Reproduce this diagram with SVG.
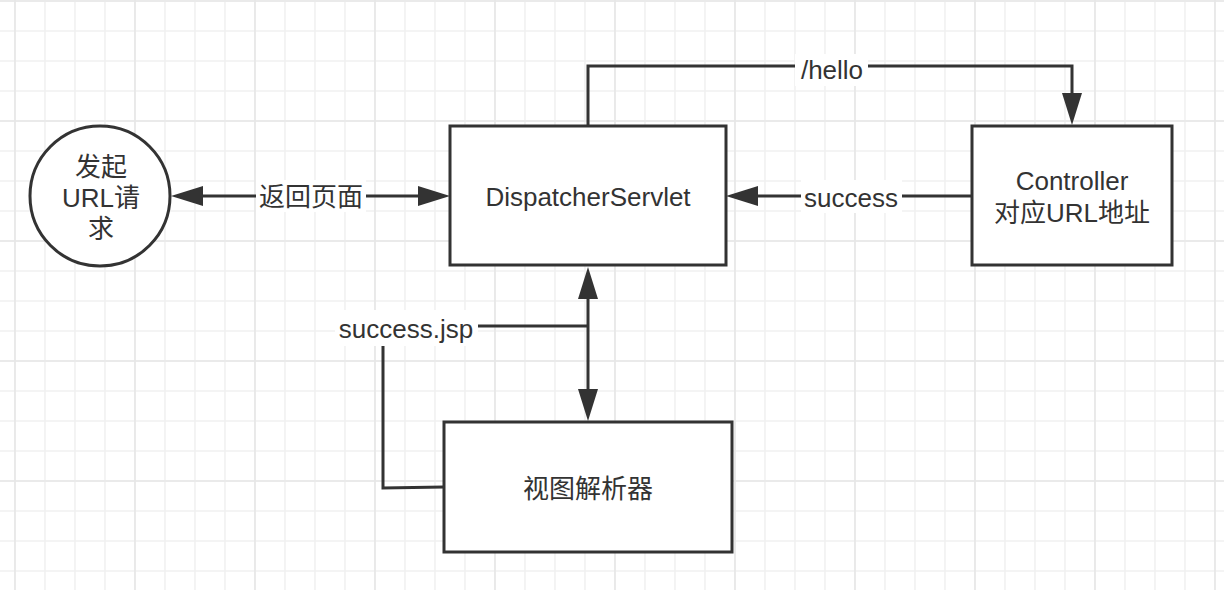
<svg xmlns="http://www.w3.org/2000/svg" width="1224" height="590" viewBox="0 0 1224 590">
  <defs>
    <pattern id="minor" patternUnits="userSpaceOnUse" x="0" y="16" width="30" height="30">
      <path d="M15,0 V30 M0,15 H30" stroke="#f1f1f1" stroke-width="1.6" fill="none"/>
    </pattern>
    <pattern id="major" patternUnits="userSpaceOnUse" x="-45" y="-59" width="120" height="120">
      <path d="M60,0 V120 M0,60 H120" stroke="#e7e7e7" stroke-width="1.6" fill="none"/>
    </pattern>
    <marker id="arrow" markerUnits="userSpaceOnUse" viewBox="0 -10 32 20" markerWidth="32" markerHeight="20" refX="0" refY="0" orient="auto-start-reverse">
      <path d="M0,-10 L32,0 L0,10 Z" fill="#333333"/>
    </marker>
    <style>
      .shape { fill: #ffffff; stroke: #333333; stroke-width: 3; }
      .edge { fill: none; stroke: #333333; stroke-width: 3; }
      .txt { font-family: "Liberation Sans", "Noto Sans CJK SC", sans-serif; font-size: 26px; fill: #333333; text-anchor: middle; }
      .lblbg { fill: #ffffff; }
    </style>
  </defs>

  <rect x="0" y="0" width="1224" height="590" fill="#ffffff"/>
  <rect x="0" y="0" width="1224" height="590" fill="url(#minor)"/>
  <rect x="0" y="0" width="1224" height="590" fill="url(#major)"/>

  <g id="connectors">
    <g id="edge-return">
      <path class="edge" d="M203,196 H418" marker-start="url(#arrow)" marker-end="url(#arrow)"/>
      <rect class="lblbg" x="256" y="180" width="110" height="32"/>
      <text class="txt" x="311" y="206">返回页面</text>
    </g>
    <g id="edge-hello">
      <path class="edge" d="M588,126 V66 H1072 V93" marker-end="url(#arrow)"/>
      <rect class="lblbg" x="795" y="54" width="73" height="32"/>
      <text class="txt" x="832" y="79">/hello</text>
    </g>
    <g id="edge-success">
      <path class="edge" d="M972,196 H758" marker-end="url(#arrow)"/>
      <rect class="lblbg" x="801" y="180" width="101" height="33"/>
      <text class="txt" x="851" y="207">success</text>
    </g>
    <g id="edge-view">
      <path class="edge" d="M588,299 V389" marker-start="url(#arrow)" marker-end="url(#arrow)"/>
    </g>
    <g id="edge-jsp">
      <path class="edge" d="M444,487 L383,488 V326 H588"/>
      <rect class="lblbg" x="335" y="310" width="143" height="36"/>
      <text class="txt" x="406" y="338">success.jsp</text>
    </g>
  </g>

  <g id="node-request">
    <circle class="shape" cx="100" cy="196" r="70"/>
    <text class="txt" x="101" y="176">发起</text>
    <text class="txt" x="101" y="207">URL请</text>
    <text class="txt" x="101" y="238">求</text>
  </g>

  <g id="node-dispatcher">
    <rect class="shape" x="450" y="126" width="276" height="139"/>
    <text class="txt" x="588" y="206">DispatcherServlet</text>
  </g>

  <g id="node-controller">
    <rect class="shape" x="972" y="126" width="200" height="139"/>
    <text class="txt" x="1072" y="190">Controller</text>
    <text class="txt" x="1072" y="222">对应URL地址</text>
  </g>

  <g id="node-viewresolver">
    <rect class="shape" x="444" y="422" width="288" height="130"/>
    <text class="txt" x="588" y="498">视图解析器</text>
  </g>
</svg>
